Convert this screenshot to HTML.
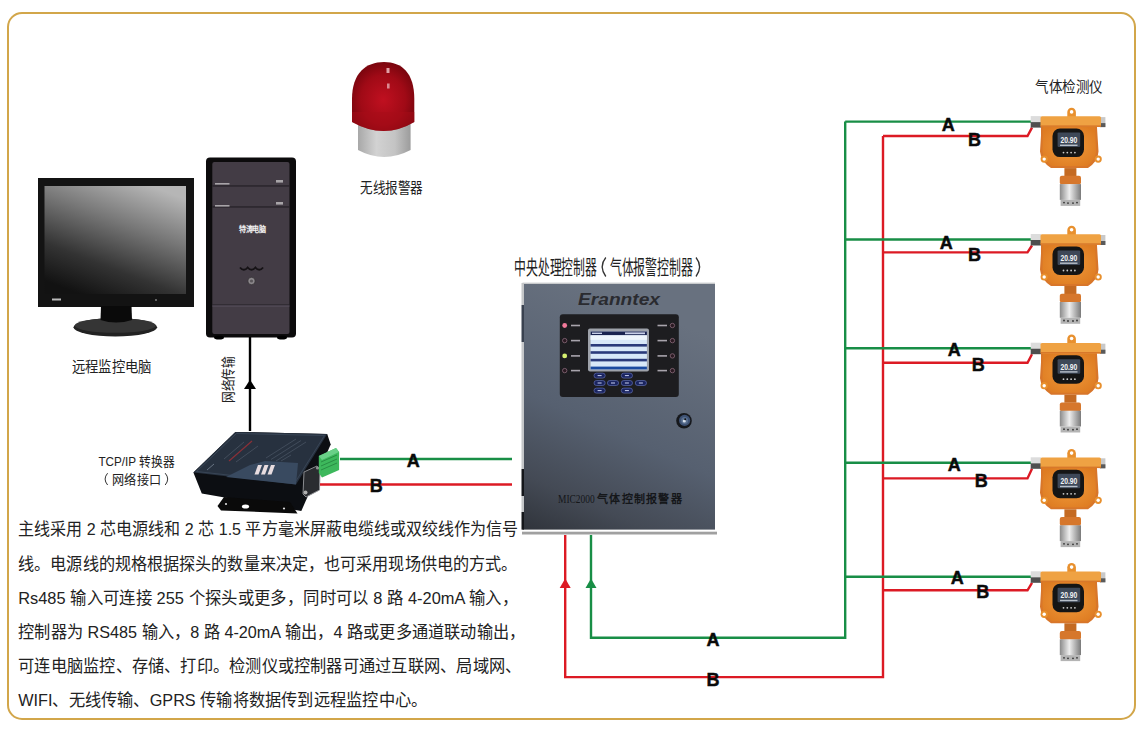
<!DOCTYPE html>
<html lang="zh-CN"><head><meta charset="utf-8">
<style>
html,body{margin:0;padding:0;background:#fff;width:1142px;height:732px;overflow:hidden}
svg{display:block}
text{font-family:"Liberation Sans",sans-serif}
</style></head>
<body>
<svg width="1142" height="732" viewBox="0 0 1142 732">
<defs>
  <linearGradient id="scr" x1="0.25" y1="1" x2="0.75" y2="0">
    <stop offset="0" stop-color="#121212"/>
    <stop offset="0.28" stop-color="#333333"/>
    <stop offset="0.65" stop-color="#787878"/>
    <stop offset="1" stop-color="#b6b6b6"/>
  </linearGradient>
  <linearGradient id="ctl" x1="0.35" y1="0" x2="0" y2="1">
    <stop offset="0" stop-color="#68717f"/>
    <stop offset="0.5" stop-color="#566070"/>
    <stop offset="0.8" stop-color="#444a55"/>
    <stop offset="1" stop-color="#30343b"/>
  </linearGradient>
  <linearGradient id="silver" x1="0" y1="0" x2="1" y2="0">
    <stop offset="0" stop-color="#8a8a8a"/>
    <stop offset="0.45" stop-color="#eeeeee"/>
    <stop offset="1" stop-color="#7a7a7a"/>
  </linearGradient>
  <linearGradient id="grey" x1="0" y1="0" x2="1" y2="0">
    <stop offset="0" stop-color="#a8a8a8"/>
    <stop offset="0.35" stop-color="#d2d2d2"/>
    <stop offset="0.7" stop-color="#c4c4c4"/>
    <stop offset="1" stop-color="#9c9c9c"/>
  </linearGradient>
  <radialGradient id="red" cx="0.5" cy="0.55" r="0.6">
    <stop offset="0" stop-color="#c01020"/>
    <stop offset="0.6" stop-color="#a00a16"/>
    <stop offset="1" stop-color="#70040c"/>
  </radialGradient>
  <radialGradient id="orng" cx="0.5" cy="0.5" r="0.6">
    <stop offset="0" stop-color="#f09a3a"/>
    <stop offset="1" stop-color="#de7c22"/>
  </radialGradient>
  <g id="det">
    <path d="M1067.3 -4 L1067.3 -9.5 A4.3 4.3 0 0 1 1075.9 -9.5 L1075.9 -4 Z" fill="#e8902e"/>
    <circle cx="1071.6" cy="-9.7" r="1.8" fill="#fff"/>
    <rect x="1030.7" y="-5.5" width="10.5" height="6" fill="#dcdcdc"/>
    <rect x="1030.7" y="0.5" width="10.5" height="5.5" fill="#4e4e4e"/>
    <rect x="1099.6" y="-4.5" width="5.8" height="10" fill="#c8c8c8"/>
    <rect x="1100" y="1.5" width="5.4" height="4" fill="#5a5a5a"/>
    <path d="M1041 3 L1096.8 3 L1097.5 14 L1098.5 30 Q1098 40 1088 46.5 L1051 46.5 Q1041 40 1040 30 L1041 14 Z" fill="#d8762a"/>
    <path d="M1043 5 L1095 5 L1096 30 Q1095.5 38.5 1087 44.5 L1052 44.5 Q1043 38.5 1042.5 30 Z" fill="url(#orng)"/>
    <rect x="1040.5" y="-5.3" width="60.5" height="10.6" rx="1.5" fill="#efa243"/>
    <rect x="1040.5" y="3.8" width="60.5" height="1.5" fill="#d8782a"/>
    <circle cx="1044.2" cy="37.5" r="3.6" fill="#e8902e"/>
    <circle cx="1044.2" cy="37.5" r="1.7" fill="#fff"/>
    <circle cx="1098.2" cy="37.5" r="3.6" fill="#e8902e"/>
    <circle cx="1098.2" cy="37.5" r="1.7" fill="#fff"/>
    <rect x="1052.5" y="7" width="31.5" height="28.5" rx="7.5" fill="#151515"/>
    <rect x="1057.6" y="11" width="22.6" height="14.5" rx="1" fill="#3e4858"/>
    <text x="1068.9" y="21.5" font-size="9.5" font-weight="bold" fill="#f0f2f4" text-anchor="middle" textLength="17" lengthAdjust="spacingAndGlyphs">20.90</text>
    <rect x="1060" y="23" width="17.5" height="1.4" fill="#b8c0ca"/>
    <circle cx="1063.5" cy="31" r="0.9" fill="#ccc"/><circle cx="1067.3" cy="31" r="0.9" fill="#ccc"/><circle cx="1071.1" cy="31" r="0.9" fill="#ccc"/><circle cx="1074.9" cy="31" r="0.9" fill="#ccc"/>
    <rect x="1064.4" y="46.5" width="12" height="8" fill="#c46a22"/>
    <rect x="1059.8" y="54.2" width="21.2" height="8.8" rx="2" fill="#d6772c"/>
    <rect x="1059.8" y="62.5" width="21.2" height="15.8" fill="url(#silver)"/>
    <rect x="1060.6" y="78.3" width="19.6" height="6" fill="#b4b4b4"/>
    <circle cx="1064" cy="81" r="0.9" fill="#333"/><circle cx="1068" cy="81.5" r="0.9" fill="#333"/><circle cx="1073" cy="81.5" r="0.9" fill="#333"/><circle cx="1077" cy="81" r="0.9" fill="#333"/>
  </g>
</defs>
<rect x="8" y="13" width="1127" height="706" rx="14" ry="14" fill="none" stroke="#d2a64a" stroke-width="2"/>


<rect x="38" y="178" width="156" height="129" fill="#131313"/>
<rect x="44.5" y="186" width="141.5" height="108" fill="url(#scr)"/>
<rect x="52" y="298.5" width="9" height="2" fill="#bbb"/>
<circle cx="156" cy="300" r="0.9" fill="#888"/>
<ellipse cx="115.3" cy="327.3" rx="41.8" ry="9.2" fill="#222"/>
<ellipse cx="115.3" cy="325.5" rx="40.5" ry="7.3" fill="#353535"/>
<path d="M101 306 L131.5 306 L132 320 Q116 325 100.5 320 Z" fill="#0a0a0a"/>


<rect x="206" y="157.5" width="90" height="180" rx="4" fill="#0c0b0c"/>
<rect x="212.3" y="162" width="77.2" height="172" rx="2" fill="#433c45"/>
<rect x="212.3" y="185.3" width="77.2" height="1.3" fill="#262228"/>
<rect x="212.3" y="206.3" width="77.2" height="1.3" fill="#262228"/>
<rect x="212.3" y="304.5" width="77.2" height="1" fill="#221e24"/><rect x="212.3" y="305.5" width="77.2" height="1" fill="#5a5260"/>
<rect x="215" y="183" width="14.5" height="1.6" fill="#a8a4a8"/>
<rect x="276" y="180" width="7" height="2.6" fill="#a8a4a8"/>
<rect x="215" y="205" width="14.5" height="1.6" fill="#a8a4a8"/>
<rect x="276" y="202" width="7" height="2.6" fill="#a8a4a8"/>
<text x="239" y="231.5" font-size="7.5" font-weight="bold" fill="#f0f0f0" textLength="26.5" lengthAdjust="spacingAndGlyphs">特涛电脑</text>
<path d="M240 267.5 q3.85 4.5 7.7 0 q3.85 4.5 7.7 0 q3.85 4.5 7.7 0" fill="none" stroke="#151215" stroke-width="1.9"/>
<circle cx="251.5" cy="281" r="3.7" fill="#8c888c" stroke="#2a262a" stroke-width="0.7"/><circle cx="251.5" cy="281" r="1.6" fill="#5a565a"/>
<ellipse cx="219" cy="337.5" rx="5" ry="2" fill="#000"/>
<ellipse cx="282" cy="337.5" rx="5" ry="2" fill="#000"/>


<path d="M358 124 L410.6 124 L410.6 150 Q384 164 358 150 Z" fill="url(#grey)"/>
<path d="M352 99 C352 73 366 62 384 62 C402 62 414.3 73 414.3 99 L414.3 122 Q384 140 352 122 Z" fill="url(#red)"/>
<path d="M352 112 L414.3 112 L414.3 122 Q384 140 352 122 Z" fill="#a80c18" opacity="0.5"/>
<rect x="386.5" y="68" width="3" height="5" fill="#f4c8cc" opacity="0.8"/>
<rect x="387" y="83.5" width="2.6" height="5" fill="#f0c0c4" opacity="0.7"/>


<path d="M193.4 472.5 L235.4 431.9 L327.2 434 L330.7 444.5 L301.3 511 L201.8 493.6 Z" fill="#0c0e12"/>
<path d="M217.5 506 L224 497 L290 502 L297.5 513.5 L221 510.5 Z" fill="#0a0a0a"/>
<ellipse cx="245.5" cy="506.5" rx="3.6" ry="2" fill="#fff"/>
<circle cx="226" cy="504" r="1.1" fill="#ddd"/>
<circle cx="284" cy="508.5" r="1.1" fill="#ddd"/>
<path d="M193.4 472.5 L235.4 431.9 L327.2 434 L296 484.5 Z" fill="#27313f"/>
<path d="M196.5 471.5 L236.5 433.5 L324.5 435.5 L295 482.5 Z" fill="none" stroke="#3c4a5c" stroke-width="0.8"/>
<path d="M226 477 L250 465 L265 461 L298 463 L296 484.5 Z" fill="#394a60"/>
<path d="M229 461 L252 441" stroke="#8a3038" stroke-width="1.2"/>
<path d="M224 459 L244 442 M236 462 L258 446" stroke="#56606e" stroke-width="0.6"/>
<path d="M266 458 L296 439 M271 459.5 L301 440.5 M276 461 L306 442 M281 461 L291 455" stroke="#5a6676" stroke-width="0.5"/>
<path d="M207 470 L214 464" stroke="#7a8696" stroke-width="0.8"/>
<path d="M258 465 L262 465 L258.5 474.5 L254.5 474.5 Z" fill="#e8dde0"/>
<path d="M264.5 465 L268.5 465 L265 474.5 L261 474.5 Z" fill="#e8dde0"/>
<path d="M271 465 L275 465 L271.5 474.5 L267.5 474.5 Z" fill="#e8dde0"/>
<path d="M304 472 L317 466 L320 470 L319.5 490 L306 497 L303 494 Z" fill="#2a2c30" stroke="#8a8c90" stroke-width="1"/>
<circle cx="305.5" cy="492.5" r="2" fill="#b0b0b0"/>
<circle cx="317.5" cy="468" r="1.6" fill="#909090"/>
<path d="M318.8 456 L336 448 L339.1 452 L339.1 470 L322 477.4 L318.8 473 Z" fill="#3db85c"/>
<path d="M321 462 L337 455 M321 466 L337 459 M321 470 L337 463" stroke="#1f7a3a" stroke-width="0.7"/>
<path d="M318.8 456 L336 448 L339.1 452 L322 460 Z" fill="#6ad088"/>


<rect x="522.5" y="283" width="192.5" height="246.6" fill="url(#ctl)"/>
<rect x="522.5" y="282.6" width="192.5" height="1.4" fill="#c8cacc"/>
<rect x="521.5" y="283" width="2.5" height="22" fill="#c4c6c8"/>
<rect x="521.5" y="305" width="2.5" height="37" fill="#3a4250"/>
<rect x="521.5" y="342" width="2.5" height="127" fill="#c4c6c8"/>
<rect x="521.5" y="469" width="2.5" height="27" fill="#15171b"/>
<rect x="521.5" y="496" width="2.5" height="16" fill="#c4c6c8"/>
<rect x="521.5" y="512" width="2.5" height="17.6" fill="#15171b"/>
<rect x="522" y="531.7" width="195" height="2.8" fill="#a0a0a0"/>
<text x="578" y="304.6" font-size="16.5" font-weight="bold" font-style="italic" fill="#2a2b30" textLength="82" lengthAdjust="spacingAndGlyphs">Eranntex</text>
<rect x="559.8" y="314.3" width="119" height="82.6" rx="3" fill="#1d1d20"/>
<rect x="588" y="328.5" width="61" height="43" rx="2" fill="#9ea2aa"/>
<rect x="590.6" y="331.5" width="56.3" height="38" fill="#d8e8f8"/>
<rect x="590.6" y="331.5" width="56.3" height="3.8" fill="#1a2350"/>
<rect x="592" y="332.6" width="10" height="1.4" fill="#c8d0e8"/><rect x="625" y="332.4" width="20" height="1.8" fill="#c8d0e8"/>
<rect x="590.6" y="335.3" width="56.3" height="4.5" fill="#eef5fc"/>
<rect x="590.6" y="344" width="56.3" height="2.6" fill="#2a3a7a"/>
<rect x="590.6" y="351.2" width="56.3" height="2.6" fill="#2a3a7a"/>
<rect x="590.6" y="358.8" width="56.3" height="2.6" fill="#2a3a7a"/>
<rect x="590.6" y="366.6" width="56.3" height="2.8" fill="#1a4aa0"/>
<circle cx="564.7" cy="325.5" r="2.4" fill="#f27a9a"/>
<circle cx="564.7" cy="340.6" r="2.2" fill="#2a1a22" stroke="#8a6a7a" stroke-width="0.8"/>
<circle cx="564.7" cy="355.9" r="2.4" fill="#d6f070"/>
<circle cx="564.7" cy="370.6" r="2.2" fill="#2a1a22" stroke="#8a6a7a" stroke-width="0.8"/>
<circle cx="672.4" cy="325.5" r="2.2" fill="#2a1a22" stroke="#8a6a7a" stroke-width="0.8"/>
<circle cx="672.4" cy="340.6" r="2.2" fill="#2a1a22" stroke="#8a6a7a" stroke-width="0.8"/>
<circle cx="672.4" cy="355.9" r="2.2" fill="#2a1a22" stroke="#8a6a7a" stroke-width="0.8"/>
<circle cx="672.4" cy="370.6" r="2.2" fill="#2a1a22" stroke="#8a6a7a" stroke-width="0.8"/>

<rect x="571" y="324.7" width="9" height="1.6" fill="#a8a4ac"/>
<rect x="657.5" y="324.7" width="9.5" height="1.6" fill="#a8a4ac"/>
<rect x="571" y="339.8" width="9" height="1.6" fill="#a8a4ac"/>
<rect x="657.5" y="339.8" width="9.5" height="1.6" fill="#a8a4ac"/>
<rect x="571" y="355.09999999999997" width="9" height="1.6" fill="#a8a4ac"/>
<rect x="657.5" y="355.09999999999997" width="9.5" height="1.6" fill="#a8a4ac"/>
<rect x="571" y="369.8" width="9" height="1.6" fill="#a8a4ac"/>
<rect x="657.5" y="369.8" width="9.5" height="1.6" fill="#a8a4ac"/>
<rect x="594.0" y="373.1" width="11.2" height="5" rx="2.5" fill="#1a2460" stroke="#6a78c0" stroke-width="0.6"/><rect x="597.6" y="375.1" width="4" height="1" fill="#c8d0f0"/>
<rect x="621.3" y="373.1" width="11.2" height="5" rx="2.5" fill="#1a2460" stroke="#6a78c0" stroke-width="0.6"/><rect x="624.9" y="375.1" width="4" height="1" fill="#c8d0f0"/>
<rect x="594.0" y="380.5" width="11.2" height="5" rx="2.5" fill="#1a2460" stroke="#6a78c0" stroke-width="0.6"/><rect x="597.6" y="382.5" width="4" height="1" fill="#c8d0f0"/>
<rect x="607.4" y="380.5" width="11.2" height="5" rx="2.5" fill="#1a2460" stroke="#6a78c0" stroke-width="0.6"/><rect x="611" y="382.5" width="4" height="1" fill="#c8d0f0"/>
<rect x="621.3" y="380.5" width="11.2" height="5" rx="2.5" fill="#1a2460" stroke="#6a78c0" stroke-width="0.6"/><rect x="624.9" y="382.5" width="4" height="1" fill="#c8d0f0"/>
<rect x="635.3" y="380.5" width="11.2" height="5" rx="2.5" fill="#1a2460" stroke="#6a78c0" stroke-width="0.6"/><rect x="638.9" y="382.5" width="4" height="1" fill="#c8d0f0"/>
<rect x="594.0" y="388.1" width="11.2" height="5" rx="2.5" fill="#1a2460" stroke="#6a78c0" stroke-width="0.6"/><rect x="597.6" y="390.1" width="4" height="1" fill="#c8d0f0"/>
<rect x="621.3" y="388.1" width="11.2" height="5" rx="2.5" fill="#1a2460" stroke="#6a78c0" stroke-width="0.6"/><rect x="624.9" y="390.1" width="4" height="1" fill="#c8d0f0"/>

<circle cx="684" cy="420.8" r="7.8" fill="#16181c"/>
<circle cx="684.6" cy="420.4" r="5.6" fill="#3e5274"/>
<circle cx="684.6" cy="420.4" r="3.5" fill="#5a7090"/>
<circle cx="684.3" cy="421" r="1.6" fill="#d8e0ea"/>
<circle cx="685.2" cy="419.2" r="1" fill="#111"/>
<text x="558" y="503.3" font-size="13" fill="#15171a" textLength="36.7" lengthAdjust="spacingAndGlyphs" style="font-family:'Liberation Serif',serif">MIC2000</text>
<text x="597" y="503.3" font-size="11" font-weight="bold" fill="#15171a" letter-spacing="1.25" style="font-family:'Liberation Serif',serif">气体控制报警器</text>

<g fill="none" stroke-width="2.4">
  <path d="M340 459 H512" stroke="#188e46"/>
  <path d="M320 484.5 H512" stroke="#dc1a24"/>
  <path d="M591 535 V637.7 H845.2 V121.6" stroke="#188e46"/>
  <path d="M565.2 535 V677.1 H883 V136" stroke="#dc1a24"/>

  <path d="M845.2 121.6 H1031" stroke="#188e46"/>
  <path d="M883 136 H1027.5 L1032 127.6" stroke="#dc1a24"/>
  <path d="M845.2 239.5 H1031" stroke="#188e46"/>
  <path d="M883 252.4 H1027.5 L1032 245.5" stroke="#dc1a24"/>
  <path d="M845.2 348.2 H1031" stroke="#188e46"/>
  <path d="M883 362.7 H1027.5 L1032 354.2" stroke="#dc1a24"/>
  <path d="M845.2 462.8 H1031" stroke="#188e46"/>
  <path d="M883 478.4 H1027.5 L1032 468.8" stroke="#dc1a24"/>
  <path d="M845.2 576.8 H1031" stroke="#188e46"/>
  <path d="M883 590.3 H1027.5 L1032 582.8" stroke="#dc1a24"/>
</g>
<path d="M250 337 V431" stroke="#000" stroke-width="2.4"/>
<path d="M250 379.8 L256 389 L244 389 Z" fill="#000"/>
<path d="M565.2 578.5 L570.7 588 L559.7 588 Z" fill="#dc1a24"/>
<path d="M591 578.5 L596.5 588 L585.5 588 Z" fill="#188e46"/>

<use href="#det" y="121.6"/>
<use href="#det" y="239.5"/>
<use href="#det" y="348.2"/>
<use href="#det" y="462.8"/>
<use href="#det" y="576.8"/>
<text x="406.7" y="466.8" font-size="18" font-weight="bold" fill="#0a0a0a" stroke="#0a0a0a" stroke-width="0.45">A</text>
<text x="369.7" y="492.4" font-size="18" font-weight="bold" fill="#0a0a0a" stroke="#0a0a0a" stroke-width="0.45">B</text>
<text x="941.8" y="130.79999999999998" font-size="18" font-weight="bold" fill="#0a0a0a" stroke="#0a0a0a" stroke-width="0.45">A</text>
<text x="939.7" y="248.6" font-size="18" font-weight="bold" fill="#0a0a0a" stroke="#0a0a0a" stroke-width="0.45">A</text>
<text x="947.8" y="355.9" font-size="18" font-weight="bold" fill="#0a0a0a" stroke="#0a0a0a" stroke-width="0.45">A</text>
<text x="947.8" y="470.7" font-size="18" font-weight="bold" fill="#0a0a0a" stroke="#0a0a0a" stroke-width="0.45">A</text>
<text x="950.8" y="584.2" font-size="18" font-weight="bold" fill="#0a0a0a" stroke="#0a0a0a" stroke-width="0.45">A</text>
<text x="968" y="145.79999999999998" font-size="18" font-weight="bold" fill="#0a0a0a" stroke="#0a0a0a" stroke-width="0.45">B</text>
<text x="968" y="261.2" font-size="18" font-weight="bold" fill="#0a0a0a" stroke="#0a0a0a" stroke-width="0.45">B</text>
<text x="971.8" y="370.9" font-size="18" font-weight="bold" fill="#0a0a0a" stroke="#0a0a0a" stroke-width="0.45">B</text>
<text x="974.8" y="486.7" font-size="18" font-weight="bold" fill="#0a0a0a" stroke="#0a0a0a" stroke-width="0.45">B</text>
<text x="976.3" y="597.8000000000001" font-size="18" font-weight="bold" fill="#0a0a0a" stroke="#0a0a0a" stroke-width="0.45">B</text>
<text x="706.5" y="645.8000000000001" font-size="18" font-weight="bold" fill="#0a0a0a" stroke="#0a0a0a" stroke-width="0.45">A</text>
<text x="706.5" y="685.8000000000001" font-size="18" font-weight="bold" fill="#0a0a0a" stroke="#0a0a0a" stroke-width="0.45">B</text>

<text x="360" y="193" font-size="15" fill="#222" textLength="63" lengthAdjust="spacingAndGlyphs">无线报警器</text>
<text x="71.7" y="372" font-size="15" fill="#222" textLength="80" lengthAdjust="spacingAndGlyphs">远程监控电脑</text>
<text x="1035" y="92" font-size="15" fill="#222" textLength="67.6" lengthAdjust="spacingAndGlyphs">气体检测仪</text>
<text x="514" y="275" font-size="20" fill="#222" textLength="83" lengthAdjust="spacingAndGlyphs">中央处理控制器</text>
<text x="609.6" y="275" font-size="20" fill="#222" textLength="83.6" lengthAdjust="spacingAndGlyphs">气体报警控制器</text>
<path d="M605.8 257.5 Q598.6 266.5 605.8 276.5 M696 257.5 Q703.2 266.5 696 276.5" fill="none" stroke="#333" stroke-width="1.3"/>
<text x="98.4" y="465.5" font-size="13" fill="#222" textLength="76" lengthAdjust="spacingAndGlyphs">TCP/IP 转换器</text>
<text x="112.3" y="483.5" font-size="13" fill="#222" textLength="48.5" lengthAdjust="spacingAndGlyphs">网络接口</text>
<path d="M107.6 473.2 Q102.6 479 107.6 485 M165.2 473.2 Q170.2 479 165.2 485" fill="none" stroke="#333" stroke-width="1"/>
<text transform="translate(233 403) rotate(-90)" font-size="14" fill="#222" textLength="47" lengthAdjust="spacingAndGlyphs">网络传输</text>

<text x="18.2" y="534.5" font-size="17" fill="#222" textLength="500" lengthAdjust="spacingAndGlyphs">主线采用 2 芯电源线和 2 芯 1.5 平方毫米屏蔽电缆线或双绞线作为信号</text>
<text x="18.2" y="569.5" font-size="17" fill="#222" textLength="499" lengthAdjust="spacingAndGlyphs">线。电源线的规格根据探头的数量来决定，也可采用现场供电的方式。</text>
<text x="18.2" y="603.5" font-size="17" fill="#222" textLength="500" lengthAdjust="spacingAndGlyphs">Rs485 输入可连接 255 个探头或更多，同时可以 8 路 4-20mA 输入，</text>
<text x="18.2" y="638" font-size="17" fill="#222" textLength="507" lengthAdjust="spacingAndGlyphs">控制器为 RS485 输入，8 路 4-20mA 输出，4 路或更多通道联动输出，</text>
<text x="18.2" y="672" font-size="17" fill="#222" textLength="503" lengthAdjust="spacingAndGlyphs">可连电脑监控、存储、打印。检测仪或控制器可通过互联网、局域网、</text>
<text x="18.2" y="706" font-size="17" fill="#222" textLength="409" lengthAdjust="spacingAndGlyphs">WIFI、无线传输、GPRS 传输将数据传到远程监控中心。</text>
</svg>
</body></html>
